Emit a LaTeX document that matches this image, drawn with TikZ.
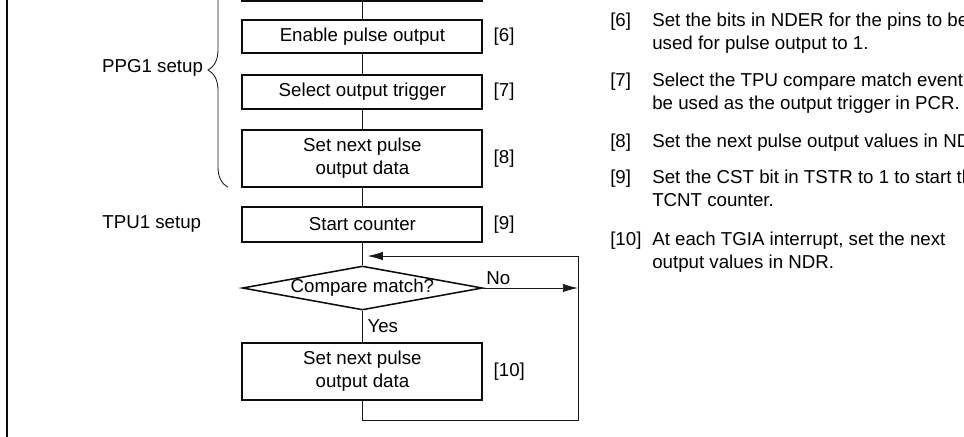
\documentclass[tikz,border=0pt]{standalone}
\usepackage{fontspec}
\setmainfont{Liberation Sans}
\usetikzlibrary{arrows.meta,positioning,calc,shapes.geometric,decorations.pathreplacing}
\colorlet{flowInk}{black!95}
\colorlet{flowLine}{black!90}
\tikzset{
  >=Latex,
  font=\fontsize{13.3}{16.4}\selectfont,
  flowbox/.style={
    draw=flowInk,
    line width=1.4pt,
    fill=white,
    minimum width=6.0cm,
    minimum height=#1,
    inner sep=2pt,
    align=center
  },
  flowbox/.default=0.84cm,
  decision/.style={
    diamond,
    draw=flowInk,
    line width=1.1pt,
    aspect=5.5,
    inner sep=0pt,
    minimum width=6.0cm,
    minimum height=1.1cm
  },
  numlabel/.style={inner sep=0pt, anchor=west},
  setuplabel/.style={inner sep=0pt},
  note/.style={inner sep=0pt, anchor=base west},
  conn/.style={draw=flowLine, line width=0.65pt},
  arrow/.style={
    -{Latex[length=3.8mm,width=2.1mm]},
    line width=0.65pt,
    draw=flowLine
  },
  bracestyle/.style={
    decorate,
    decoration={brace, amplitude=0.5cm},
    line width=0.6pt,
    draw=flowLine
  },
  frameline/.style={line width=1.7pt, draw=flowInk}
}

\begin{document}
\begin{tikzpicture}[x=1cm,y=1cm]
\useasboundingbox (0,0) rectangle (24.1,-10.9);
\clip (0,0) rectangle (24.1,-10.9);

\draw[frameline] (0.175,0.2) -- (0.175,-11.1);

% flow column
\node[flowbox=1.4cm] (prev) at (9.06,0.68) {};
\node[flowbox=0.82cm] (enable) at (9.06,-0.91) {Enable pulse output};
\node[flowbox=0.85cm] (trigger) at (9.06,-2.30) {Select output trigger};
\node[flowbox=1.42cm] (nextdata) at (9.06,-3.96) {Set next pulse\\output data};
\node[flowbox=0.87cm] (start) at (9.06,-5.61) {Start counter};
\node[decision] (match) at (9.06,-7.20) {Compare match?};
\node[flowbox=1.42cm] (nextdata2) at (9.06,-9.29) {Set next pulse\\output data};

\node[numlabel, right=0.25cm of enable] (n6) {[6]};
\node[numlabel, right=0.25cm of trigger] (n7) {[7]};
\node[numlabel, right=0.25cm of nextdata] (n8) {[8]};
\node[numlabel, right=0.25cm of start] (n9) {[9]};
\node[numlabel, right=0.25cm of nextdata2] (n10) {[10]};

% setup groups
\coordinate (bracebot) at (5.7,-4.68);
\coordinate (bracetop) at (5.7,1.18);
\draw[bracestyle] (bracebot) -- (bracetop);
\node[setuplabel, anchor=east] (ppg) at (5.08,-1.70) {PPG1 setup};
\node[setuplabel, left=1.0cm of start] (tpu) {TPU1 setup};

% notes
\node[note] (note6) at (15.25,-0.667)
{\begin{tabular}[t]{@{}p{1.05cm}@{}l@{}}[6] & Set the bits in NDER for the pins to be\\ & used for pulse output to 1.\end{tabular}};
\node[note] (note7) at (15.25,-2.167)
{\begin{tabular}[t]{@{}p{1.05cm}@{}l@{}}[7] & Select the TPU compare match event to\\ & be used as the output trigger in PCR.\end{tabular}};
\node[note] (note8) at (15.25,-3.69)
{\begin{tabular}[t]{@{}p{1.05cm}@{}l@{}}[8] & Set the next pulse output values in NDR.\end{tabular}};
\node[note] (note9) at (15.25,-4.59)
{\begin{tabular}[t]{@{}p{1.05cm}@{}l@{}}[9] & Set the CST bit in TSTR to 1 to start the\\ & TCNT counter.\end{tabular}};
\node[note] (note10) at (15.25,-6.14)
{\begin{tabular}[t]{@{}p{1.05cm}@{}l@{}}[10] & At each TGIA interrupt, set the next\\ & output values in NDR.\end{tabular}};

% connectors
\coordinate (loopcorner) at (14.45,-10.5);
\coordinate (looptop) at (14.45,-6.4);
\coordinate (loopend) at ($(start.south |- looptop)+(0.13,0)$);

\draw[conn] (prev) -- (enable);
\draw[conn] (enable) -- (trigger);
\draw[conn] (trigger) -- (nextdata);
\draw[conn] (nextdata) -- (start);
\draw[conn] (start) -- (match);
\draw[conn] (match) -- node[right] (yes) {Yes} (nextdata2);
\draw[arrow] (match.east) -- node[pos=0, above right, inner sep=2pt] (no) {No} (match.east -| loopcorner);
\draw[conn] (nextdata2.south) |- (loopcorner) -- (looptop);
\draw[arrow] (looptop) -- (loopend);

\end{tikzpicture}
\end{document}
